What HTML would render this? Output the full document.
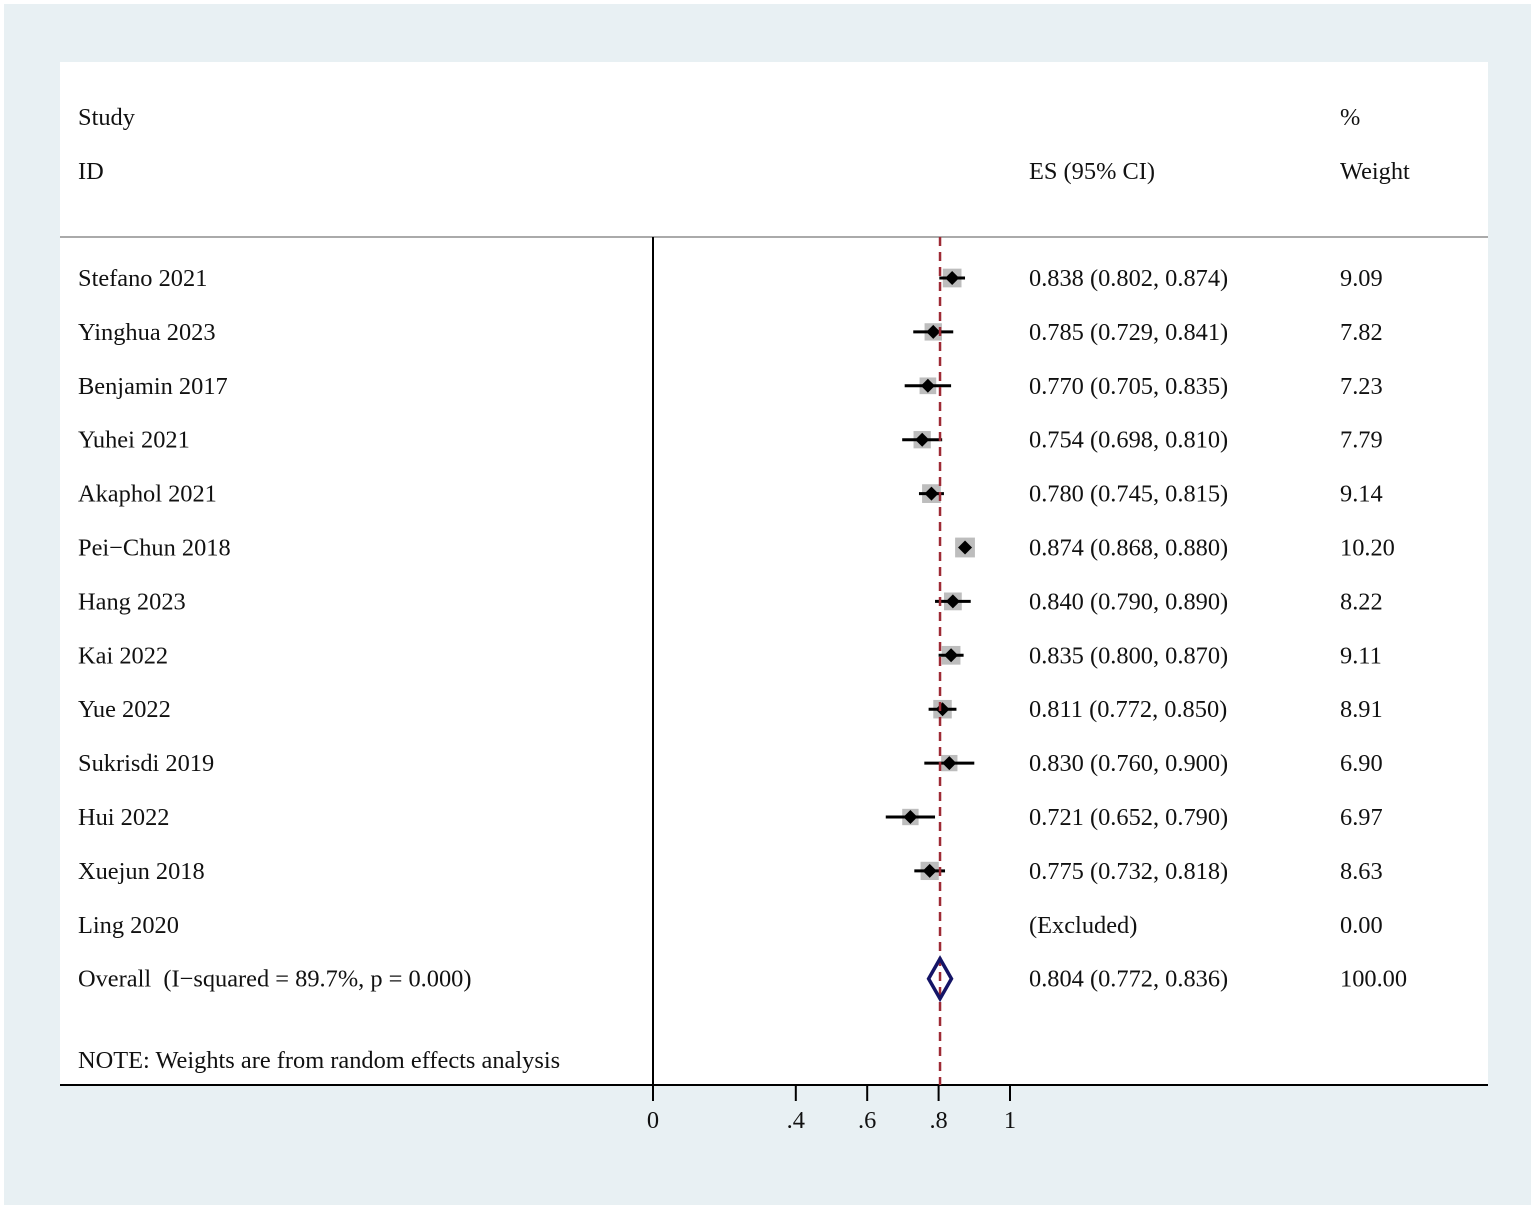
<!DOCTYPE html>
<html><head><meta charset="utf-8"><style>
body{margin:0;background:#fff}
svg{display:block;font-family:"Liberation Serif",serif}
text{white-space:pre}
</style></head><body>
<svg id="c" width="1535" height="1210">
<rect x="4" y="4" width="1527" height="1201" fill="#e8f0f3"/>
<rect x="60" y="62" width="1428" height="1023" fill="#fff"/>
<g font-size="24.4" fill="#111">
<text x="78" y="125">Study</text>
<text x="78" y="179">ID</text>
<text x="1029" y="179">ES (95% CI)</text>
<text x="1340" y="125">%</text>
<text x="1340" y="179">Weight</text>
<text x="78" y="1068">NOTE: Weights are from random effects analysis</text>
</g>
<line x1="60" y1="237" x2="1488" y2="237" stroke="#aaa" stroke-width="2"/>
<line x1="653" y1="237" x2="653" y2="1085" stroke="#000" stroke-width="2"/>
<line x1="60" y1="1085" x2="1488" y2="1085" stroke="#000" stroke-width="2"/>
</svg>
<script>
const studies=["Stefano 2021","Yinghua 2023","Benjamin 2017","Yuhei 2021","Akaphol 2021","Pei\u2212Chun 2018","Hang 2023","Kai 2022","Yue 2022","Sukrisdi 2019","Hui 2022","Xuejun 2018","Ling 2020"];
const es=[0.838,0.785,0.770,0.754,0.780,0.874,0.840,0.835,0.811,0.830,0.721,0.775,null];
const lo=[0.802,0.729,0.705,0.698,0.745,0.868,0.790,0.800,0.772,0.760,0.652,0.732,null];
const hi=[0.874,0.841,0.835,0.810,0.815,0.880,0.890,0.870,0.850,0.900,0.790,0.818,null];
const weights=["9.09","7.82","7.23","7.79","9.14","10.20","8.22","9.11","8.91","6.90","6.97","8.63","0.00"];
const overall=[0.804,0.772,0.836];
const ticks=[0,0.4,0.6,0.8,1];
const tickLabels=["0",".4",".6",".8","1"];
const X=v=>653+v*357;
const rowY=i=>278+i*53.9;
const FS=24.4;
const ns="http://www.w3.org/2000/svg";
const svg=document.getElementById('c');
function mk(t,a,txt){const e=document.createElementNS(ns,t);for(const k in a)e.setAttribute(k,a[k]);if(txt!==undefined)e.textContent=txt;svg.appendChild(e);return e;}
function f3(v){return v.toFixed(3);}
studies.forEach((s,i)=>{
 const y=rowY(i);
 let e=mk('text',{x:78,y:y+8,'font-size':FS,fill:'#111'},s);
 
 
 e=mk('text',{x:1029,y:y+8,'font-size':FS,fill:'#111'},es[i]===null?"(Excluded)":`${f3(es[i])} (${f3(lo[i])}, ${f3(hi[i])})`);
 
 
 e=mk('text',{x:1340,y:y+8,'font-size':FS,fill:'#111'},weights[i]);
 
 
 if(es[i]===null)return;
 const sz=6.2*Math.sqrt(parseFloat(weights[i]));
 e=mk('rect',{x:X(es[i])-sz/2,y:y-sz/2,width:sz,height:sz,fill:'#bdbdbd'});
 
 
 e=mk('line',{x1:X(lo[i]),x2:X(hi[i]),y1:y,y2:y,stroke:'#000','stroke-width':3});
 
 
 const cx=X(es[i]);
 e=mk('polygon',{points:`${cx-7},${y} ${cx},${y-7} ${cx+7},${y} ${cx},${y+7}`,fill:'#000'});
 
 
});
const oy=rowY(13);
let e=mk('text',{x:78,y:oy+8,'font-size':FS,fill:'#111'},"Overall  (I\u2212squared = 89.7%, p = 0.000)");


e=mk('text',{x:1029,y:oy+8,'font-size':FS,fill:'#111'},`${f3(overall[0])} (${f3(overall[1])}, ${f3(overall[2])})`);


e=mk('text',{x:1340,y:oy+8,'font-size':FS,fill:'#111'},"100.00");


e=mk('line',{x1:X(overall[0]),x2:X(overall[0]),y1:237,y2:1085,stroke:'#9e2a35','stroke-width':2.5,'stroke-dasharray':'9,6'});


e=mk('polygon',{points:`${X(overall[1])},${oy} ${X(overall[0])},${oy-20} ${X(overall[2])},${oy} ${X(overall[0])},${oy+20}`,fill:'none',stroke:'#141466','stroke-width':3.5});


ticks.forEach((t,i)=>{
 let e=mk('line',{x1:X(t),x2:X(t),y1:1085,y2:1101,stroke:'#000','stroke-width':2});
 
 
 e=mk('text',{x:X(t),y:1128,'font-size':FS,fill:'#111','text-anchor':'middle'},tickLabels[i]);
 
 
});
</script>
</body></html>
